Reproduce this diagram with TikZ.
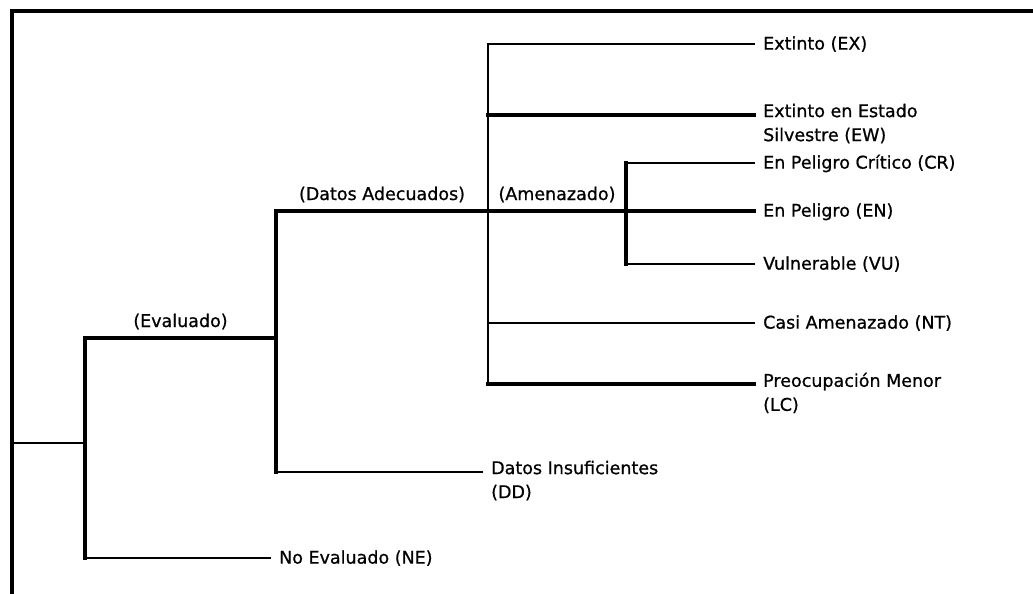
\documentclass[tikz,border=0pt]{standalone}
\usepackage{fontspec}
\newfontfamily\treefont[FakeBold=0.8]{DejaVu Sans}

\begin{document}
\begin{tikzpicture}[x=1pt, y=-1pt,
    thickbranch/.style={line width=3.5pt, line cap=rect},
    thinbranch/.style={line width=1.8pt, line cap=rect},
    leaf/.style={anchor=north west, align=left, inner sep=0pt,
        font=\treefont\fontsize{17.5}{24}\selectfont, execute at begin node=\strut},
    branchlabel/.style={anchor=base, yshift=11pt, inner sep=0pt,
        font=\treefont\fontsize{17.5}{24}\selectfont}]
    \useasboundingbox (0,0) rectangle (1033,594);

    % Draw the frame
    \draw[line width=4pt] (11.5,594) -- (11.5,11.5) -- (1033,11.5);

    % Branch points
    \coordinate (root) at (11,443);
    \coordinate (b1) at (85,443);
    \coordinate (b2) at (276,338);
    \coordinate (b3) at (488,211);
    \coordinate (b4) at (626,211);

    % Ends of the leaves
    \foreach \nm/\yy in {ex/44, ew/115, cr/163, en/211, vu/264, nt/323, lc/384}
        \coordinate (\nm) at (754,\yy);
    \coordinate (dd) at (482,472);
    \coordinate (ne) at (270,558);

    % Draw the root and the (Evaluado) branch
    \draw[thinbranch] (root) -- (b1);
    \draw[thickbranch] (b2) -- node[branchlabel] (lbl-eval) {(Evaluado)} (b1 |- b2) -- (b1 |- ne);
    \draw[thinbranch] (b1 |- ne) -- (ne);

    % Draw the (Datos Adecuados) branch
    \draw[thickbranch] (b3) -- node[branchlabel] (lbl-adeq) {(Datos Adecuados)} (b2 |- b3) -- (b2 |- dd);
    \draw[thinbranch] (b2 |- dd) -- (dd);

    % Draw the (Amenazado) branch
    \draw[thickbranch] (b3) -- node[branchlabel] (lbl-threat) {(Amenazado)} (b4) -- (en);
    \draw[thickbranch] (b4 |- cr) -- (b4 |- vu);
    \draw[thinbranch] (b4 |- cr) -- (cr);
    \draw[thinbranch] (b4 |- vu) -- (vu);

    % Draw the other categories
    \draw[thinbranch] (ex) -| (b3 |- lc);
    \draw[thickbranch] (b3 |- ew) -- (ew);
    \draw[thinbranch] (b3 |- nt) -- (nt);
    \draw[thickbranch] (b3 |- lc) -- (lc);

    % Add the category names
    \foreach \nm/\txt in {ex/{Extinto (EX)}, ew/{Extinto en Estado\\Silvestre (EW)},
            cr/{En Peligro Crítico (CR)}, en/{En Peligro (EN)}, vu/{Vulnerable (VU)},
            nt/{Casi Amenazado (NT)}, lc/{Preocupación Menor\\(LC)},
            dd/{Datos Insuficientes\\(DD)}, ne/{No Evaluado (NE)}}
        \node[leaf] (lbl-\nm) at ([xshift=9pt, yshift=11.4pt]\nm) {\txt};

\end{tikzpicture}
\end{document}
